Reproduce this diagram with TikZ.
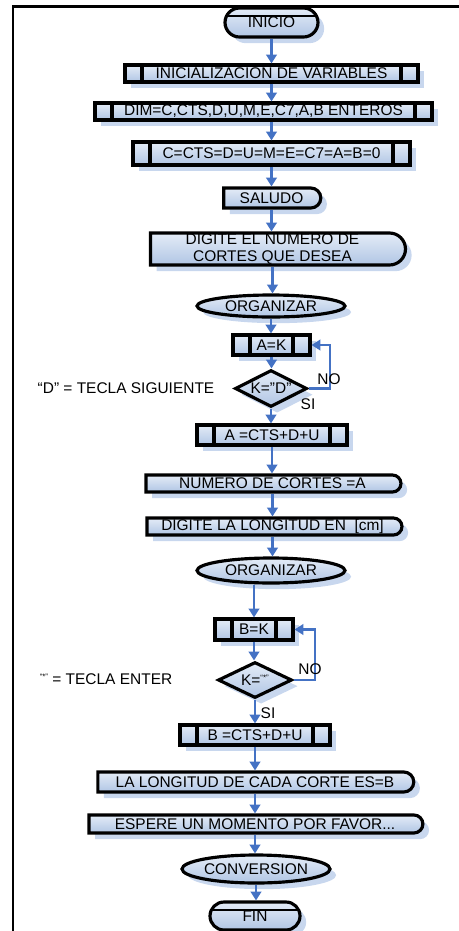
\documentclass[tikz,border=0pt]{standalone}
\usepackage{fontspec}
\setmainfont{Liberation Sans}
\usetikzlibrary{arrows.meta}
\usetikzlibrary{calc}
\usetikzlibrary{shapes.geometric,shapes.misc,shadows}
\tikzset{>={Triangle[length=5pt,width=6pt]}}
\definecolor{flujoazul}{RGB}{68,114,196}
\definecolor{cajaazul}{RGB}{176,197,228}
\definecolor{cajaclara}{RGB}{228,236,247}
\definecolor{sombraazul}{RGB}{200,215,238}
\tikzstyle{caja}=[draw=black,line width=1.8pt,top color=cajaclara,bottom color=cajaazul,
  drop shadow={shadow xshift=3.5pt,shadow yshift=-3.5pt,fill=sombraazul,opacity=1},
  inner sep=0pt,align=center]
\tikzstyle{proceso}=[caja,rectangle,path picture={
  \draw[line width=1.8pt] ([xshift=0.34cm]path picture bounding box.north west) -- ([xshift=0.34cm]path picture bounding box.south west)
    ([xshift=-0.34cm]path picture bounding box.north east) -- ([xshift=-0.34cm]path picture bounding box.south east);}]
\tikzstyle{pantalla}=[caja,rounded rectangle,rounded rectangle left arc=none]
\tikzstyle{terminal}=[caja,rounded rectangle,path picture={
  \draw[line width=1.2pt] ([yshift=-4.5pt]path picture bounding box.north west) -- ([yshift=-4.5pt]path picture bounding box.north east);}]
\tikzstyle{elipse}=[caja,ellipse]
\tikzstyle{rombo}=[caja,diamond,aspect=2]
\tikzstyle{flecha}=[->,draw=flujoazul,line width=1.2pt]

\begin{document}
\begin{tikzpicture}[x=0.02cm,y=-0.02cm,font=\fontsize{8.8}{9.5}\selectfont]
    \useasboundingbox (0,0) rectangle (459,931);
    \draw[line width=1.7pt] (13,931) -- (13,6) -- (459,6);

    \node[terminal,minimum width=1.86cm,minimum height=0.58cm] (inicio) at (271.5,22.5) {\raisebox{-2.2pt}{INICIO}};
    \node[proceso,minimum width=5.86cm,minimum height=0.34cm] (init) at (271.5,73.5) {INICIALIZACION DE VARIABLES};
    \node[proceso,minimum width=6.74cm,minimum height=0.34cm] (dim) at (263.5,111.5) {DIM=C,CTS,D,U,M,E,C7,A,B ENTEROS};
    \node[proceso,minimum width=5.54cm,minimum height=0.46cm] (ceros) at (271.5,153.5) {C=CTS=D=U=M=E=C7=A=B=0};
    \node[pantalla,minimum width=1.94cm,minimum height=0.40cm] (saludo) at (271.5,198) {SALUDO};
    \node[pantalla,minimum width=5.1cm,minimum height=0.64cm] (digite) at (272.5,249) {DIGITE EL NUMERO DE\\CORTES QUE DESEA};
    \node[elipse,minimum width=2.96cm,minimum height=0.44cm] (org1) at (271,306) {ORGANIZAR};
    \node[proceso,minimum width=1.54cm,minimum height=0.40cm] (ak) at (271.5,345) {A=K};
    \node[rombo,minimum width=1.44cm,minimum height=0.74cm] (cond1) at (271,388.5) {K=”D”};
    \node[proceso,minimum width=3.0cm,minimum height=0.40cm] (acts) at (272,435) {A =CTS+D+U};
    \node[pantalla,minimum width=5.1cm,minimum height=0.34cm] (numcort) at (272.5,483.5) {NUMERO DE CORTES =A};
    \node[pantalla,minimum width=5.1cm,minimum height=0.34cm] (diglong) at (272.5,526.5) {DIGITE LA LONGITUD EN\ \ [cm]};
    \node[elipse,minimum width=2.96cm,minimum height=0.50cm] (org2) at (271,570.5) {ORGANIZAR};
    \node[proceso,minimum width=1.56cm,minimum height=0.42cm] (bk) at (254,629.5) {B=K};
    \node[rombo,minimum width=1.48cm,minimum height=0.72cm] (cond2) at (255,680) {K=\raisebox{2.5pt}{\fontsize{4.5}{5}\selectfont “*”}};
    \node[proceso,minimum width=3.0cm,minimum height=0.40cm] (bcts) at (255,735) {B =CTS+D+U};
    \node[pantalla,minimum width=6.32cm,minimum height=0.40cm] (lalong) at (255,782) {LA LONGITUD DE CADA CORTE ES=B};
    \node[pantalla,minimum width=6.68cm,minimum height=0.36cm] (espere) at (255,824) {ESPERE UN MOMENTO POR FAVOR...};
    \node[elipse,minimum width=2.96cm,minimum height=0.56cm] (conv) at (256,869) {CONVERSION};
    \node[terminal,minimum width=1.80cm,minimum height=0.56cm] (fin) at (255,916) {\raisebox{-2.2pt}{FIN}};

    \foreach \a/\b in {inicio/init,init/dim,ceros/saludo,saludo/digite,digite/org1,org1/ak,ak/cond1,cond1/acts,
      acts/numcort,numcort/diglong,diglong/org2,bk/cond2,cond2/bcts,bcts/lalong,lalong/espere,espere/conv,conv/fin}{
      \draw[flecha] (\a.south) -- (\a.south |- \b.north);
    }
    \draw[flecha] (dim.south -| ceros) -- (ceros.north);
    \draw[flecha] (org2.south -| bk) -- (bk.north);
    % lazos de repeticion
    \draw[flecha] (cond1.east) -- ++(21,0) |- (ak.east);
    \draw[flecha] (cond2.east) -- ++(21,0) |- (bk.east);

    \node (no1) at (329,379) {NO};
    \node (si1) at (308,404) {SI};
    \node (no2) at (310,669) {NO};
    \node (si2) at (268,713) {SI};
    \node (notad) at (126,388) {“D” = TECLA SIGUIENTE};
    \node (notaenter) at (106,679) {\raisebox{2.5pt}{\fontsize{4.5}{5}\selectfont “*”} = TECLA ENTER};
\end{tikzpicture}
\end{document}
